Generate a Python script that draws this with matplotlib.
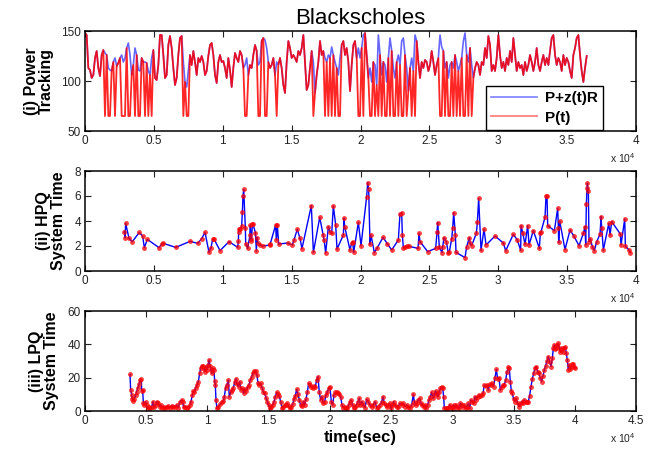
import matplotlib
matplotlib.use("Agg")
import matplotlib.pyplot as plt
import numpy as np

plt.rcParams['font.family'] = ['Liberation Sans', 'DejaVu Sans']
plt.rcParams['mathtext.default'] = 'regular'

# ---- (i) power tracking: one sample every 121 s, 0 .. ~36400 s
sample_step = 121
power = [
    148, 146, 113, 111, 103, 106, 123, 130, 113, 105,
    126, 131, 128, 126, 113, 111, 110, 119, 123, 115,
    118, 123, 126, 119, 123, 133, 138, 126, 106, 116,
    133, 126, 111, 110, 123, 119, 119, 118, 110, 106,
    123, 131, 103, 101, 116, 146, 146, 126, 103, 106,
    136, 145, 133, 113, 96, 103, 126, 143, 145, 119,
    99, 94, 110, 126, 116, 130, 119, 106, 123, 119,
    125, 119, 106, 110, 125, 136, 138, 126, 106, 98,
    119, 126, 119, 120, 113, 103, 123, 111, 94, 113,
    128, 123, 119, 130, 126, 113, 116, 123, 106, 116,
    113, 126, 136, 130, 116, 119, 140, 143, 141, 133,
    119, 113, 116, 123, 106, 119, 116, 123, 113, 96,
    88, 119, 140, 133, 123, 126, 123, 119, 130, 126,
    133, 146, 119, 91, 96, 113, 130, 119, 88, 106,
    119, 140, 126, 130, 123, 119, 126, 123, 134, 126,
    119, 113, 106, 123, 136, 140, 126, 133, 119, 90,
    116, 136, 140, 123, 133,
    123, 133, 146, 148, 126, 103, 113, 99, 119, 116,
    96, 146, 126, 106, 119, 116, 99, 123, 143, 130,
    113, 103, 119, 126, 116, 140, 143, 126, 113, 90,
    113, 123, 110, 146, 140, 119, 103, 119, 113, 121,
    119, 110, 116, 130, 119, 106, 116, 123, 146, 134,
    130, 113, 119, 103, 116, 119, 113, 126, 119, 110,
    116, 123, 140, 148, 126, 119, 133, 116, 103, 113,
    119, 116, 106, 119, 116, 133, 123, 145, 136, 110,
    116, 110, 123, 146, 126, 113, 119, 110, 123, 116,
    130, 119, 143, 126, 110, 119, 113, 116, 106, 119,
    110, 116, 126, 119, 110, 119, 133, 116, 110, 119,
    126, 116, 123, 116, 130, 143, 146, 126, 116, 123,
    119, 110, 126, 116, 123, 119, 110, 103, 126, 133,
    143, 146, 126, 110, 99, 113, 125,
]
# samples where P(t) falls to its floor
dip_level = 65
dip_index = [
    12, 14, 15, 18, 22, 23, 24, 26, 27, 30, 32, 33, 36, 38, 40,
    59, 61, 62, 96, 97, 104, 105, 108, 109, 115, 137,
    144, 146, 148, 150, 152, 153, 164,
    165, 167, 171, 172, 174, 176, 178, 180, 181, 183, 185, 186,
    188, 190, 191, 193, 196, 198, 213, 214, 216, 218, 219, 221,
    223, 225, 227, 228, 230, 232,
]

# ---- (ii) HPQ system time
hpq_t = [
    2856, 2904, 2952, 3194, 3436, 3945, 4187, 4308, 4525, 5372,
    5566, 5687, 6582, 7623, 8180, 8470, 8712, 9002, 9148, 9269,
    9365, 9801, 10454, 11084, 11132, 11156, 11180, 11277, 11374, 11422,
    11471, 11519, 11640, 11665, 11810, 11980, 12005, 12030, 12080, 12150,
    12200, 12370, 12440, 12490, 12540, 12710, 12950, 13400, 13450, 13840,
    13890, 13960, 14060, 14720, 15050, 15170, 15410, 15610, 15750, 16430,
    16580, 17040, 17290, 17360, 17472, 17666, 17787, 17908, 18029, 18198,
    18295, 18755, 18803, 18852, 19239, 19360, 19433, 19505, 19844,
    20037, 20448, 20521, 20593, 20690, 20763, 21005, 21222, 21634, 21948,
    22263, 22747, 22868, 22989, 23037, 23110, 23231, 23400, 23545, 24175,
    24248, 24320, 24877, 25458, 25554, 25603, 25724, 25917, 25966, 26062,
    26232, 26377, 26450, 26619, 26692, 26764, 26885, 26934, 27587, 27708,
    27901, 27950, 28071, 28410, 28483, 28579, 28749, 28966, 29112, 29765,
    30370, 30540, 31096, 31386, 31628, 31653, 31774, 31943, 32137, 32234,
    32548, 32984, 33056, 33105, 33395, 33468, 33540, 33589, 34073, 34315,
    34364, 34388, 34460, 34847, 35210, 35500, 35863, 36178, 36299, 36347,
    36396, 36444, 36468, 36541, 36589, 36686, 36831, 36976, 37146, 37388,
    37461, 37510, 37630, 38025, 38114, 38235, 38864, 38913, 39180, 39228,
    39494, 39590,
]
hpq_v = [
    3.15, 2.67, 3.81, 2.61, 2.35, 3.09, 2.77, 1.87, 2.53, 1.87,
    2.16, 2.21, 1.89, 2.37, 2.21, 2.59, 3.09, 1.49, 1.87, 2.56,
    2.56, 1.63, 2.35, 1.89, 2.40, 3.15, 3.36, 3.36, 3.60, 4.69,
    6.00, 6.53, 3.47, 2.20, 1.81, 2.88, 3.68, 2.56, 2.40, 3.73,
    3.73, 3.07, 1.60, 2.67, 2.27, 2.08, 2.00, 2.08, 2.19, 3.68,
    2.48, 3.68, 2.16, 2.24, 2.08, 2.48, 3.33, 2.61, 1.79, 5.23,
    1.49, 4.29, 2.88, 2.48, 1.44, 3.55, 3.15, 3.01, 5.20, 3.68,
    1.76, 2.88, 4.21, 3.55, 1.68, 2.27, 2.35, 1.49, 3.89,
    2.03, 5.95, 7.07, 6.56, 2.13, 2.88, 1.47, 1.87, 2.69, 2.19,
    1.68, 2.48, 4.59, 4.67, 2.88, 1.87, 1.92, 1.97, 1.97, 1.81,
    3.01, 2.35, 1.55, 1.81, 3.09, 3.87, 1.89, 1.47, 1.95, 2.67,
    2.35, 1.41, 1.55, 2.56, 3.41, 4.67, 2.88, 1.49, 1.07, 1.95,
    2.67, 2.21, 2.03, 3.01, 3.89, 5.81, 1.65, 3.36, 2.08, 2.80,
    2.24, 1.63, 2.93, 2.48, 1.65, 3.63, 3.07, 2.13, 3.63, 2.08,
    3.23, 1.81, 3.07, 3.15, 4.29, 6.00, 6.00, 3.63, 3.23, 5.01,
    3.41, 2.29, 4.00, 1.71, 3.28, 2.77, 2.03, 3.01, 3.55, 2.08,
    5.36, 6.61, 7.01, 6.40, 2.35, 2.56, 1.95, 1.63, 2.35, 2.93,
    4.35, 3.47, 1.68, 3.81, 2.88, 3.95, 2.96, 2.08, 4.16, 2.00,
    1.68, 1.47,
]

# ---- (iii) LPQ system time
lpq_t = [
    3675, 3729, 3811, 3865, 3947, 4029, 4137, 4219, 4301, 4410,
    4519, 4600, 4627, 4709, 4764, 4845, 4954, 5036, 5117, 5226,
    5335, 5444, 5553, 5635, 5771, 5880, 5988, 6097, 6206, 6315,
    6424, 6533, 6669, 6805, 6941, 7077, 7213, 7349, 7486, 7622,
    7758, 7894, 7976, 8057, 8166, 8302, 8438, 8574, 8656, 8765,
    8847, 8928, 9037, 9146, 9255, 9364, 9446, 9527, 9636, 9718,
    9799, 9881, 9963, 10044, 10126, 10208, 10290, 10371, 10453, 10534,
    10589, 10643, 10698, 10779, 10888, 11024, 11160, 11297, 11378, 11487,
    11596, 11705, 11786, 11895, 11977, 12113, 12249, 12331, 12440, 12549,
    12630, 12739, 12848, 12957, 13066, 13174, 13283, 13392, 13501, 13610,
    13719, 13828, 13937, 14046, 14127, 14236, 14345, 14454, 14563, 14671,
    14780, 14889, 14998, 15107, 15216, 15325, 15434, 15543, 15652, 15760,
    15869, 15978, 16087, 16196, 16305, 16414, 16522, 16631, 16740, 16849,
    16958, 17067, 17176, 17285, 17393, 17502, 17611, 17720, 17829, 17938,
    18047, 18156, 18264, 18373, 18482, 18591, 18700, 18809, 18918, 19027,
    19136, 19245, 19353, 19462, 19571, 19680, 19789, 19898, 20007, 20116,
    20225, 20334, 20443, 20552, 20661, 20770, 20878, 20987, 21096, 21205,
    21314, 21423, 21532, 21640, 21749, 21858, 21967, 22076, 22185, 22294,
    22403, 22459, 22595, 22731, 22868, 23004, 23140, 23276, 23412, 23548,
    23684, 23820, 23957, 24093, 24229, 24337, 24446, 24555, 24664, 24773,
    24882, 24991, 25100, 25209, 25317, 25454, 25590, 25726, 25862, 25998,
    26134, 26270, 26406, 26543, 26679, 26815, 26896, 27005, 27114, 27223,
    27332, 27441, 27549, 27658, 27767, 27876, 27985, 28094, 28203, 28312,
    28420, 28529, 28638, 28720, 28801, 28910, 29019, 29128, 29210, 29291,
    29345, 29454, 29563, 29672, 29781, 29890, 29999, 30108, 30216, 30325,
    30434, 30543, 30652, 30762, 30870, 30979, 31088, 31197, 31306, 31415,
    31524, 31633, 31742, 31851, 31959, 32068, 32177, 32286, 32395, 32504,
    32613, 32722, 32830, 32939, 33048, 33157, 33266, 33374, 33483, 33592,
    33701, 33810, 33919, 34028, 34137, 34246, 34355, 34464, 34573, 34654,
    34736, 34817, 34899, 35008, 35117, 35225, 35334, 35443, 35552, 35661,
    35770, 35879, 35988, 36096, 36205, 36314, 36423, 36532, 36641, 36750,
    36859, 36968, 37076, 37185, 37294, 37403, 37512, 37621, 37730, 37839,
    37947, 38056, 38165, 38247, 38329, 38410, 38492, 38574, 38655, 38737,
    38819, 38900, 38982, 39064, 39145, 39227, 39308, 39390, 39472, 39553,
    39635, 39717, 39798, 39880, 39962, 40044,
]
lpq_v = [
    22.0, 12.6, 9.6, 7.0, 6.0, 7.2, 9.6, 11.6, 13.6, 16.0,
    18.6, 19.0, 12.0, 12.4, 5.0, 3.6, 5.6, 3.6, 1.6, 2.6,
    2.0, 2.4, 5.6, 2.6, 3.6, 5.6, 4.6, 2.6, 3.6, 2.0,
    2.6, 1.6, 2.4, 2.8, 2.0, 3.2, 2.2, 2.4, 3.6, 2.0,
    5.6, 6.6, 5.2, 2.2, 2.6, 2.0, 2.6, 3.6, 5.6, 9.6,
    12.0, 11.2, 14.0, 15.6, 17.6, 22.6, 25.6, 27.2, 27.0, 25.2,
    23.6, 26.6, 24.6, 27.6, 30.6, 27.2, 24.6, 22.6, 25.6, 24.6,
    18.0, 15.6, 6.6, 1.6, 2.6, 4.0, 5.6, 6.0, 8.6, 14.0,
    15.6, 18.6, 8.6, 11.2, 12.6, 14.0, 17.6, 19.2, 16.0, 14.6,
    17.6, 12.6, 13.6, 10.6, 13.2, 12.0, 14.6, 15.6, 18.6, 20.6,
    22.6, 24.0, 24.2, 21.6, 16.6, 15.6, 16.6, 14.0, 11.6, 10.6,
    8.0, 5.6, 3.6, 1.6, 2.6, 3.6, 5.6, 8.6, 11.2, 10.0,
    9.0, 5.6, 2.0, 2.6, 3.6, 3.6, 4.6, 3.2, 1.6, 2.6,
    4.2, 7.0, 9.2, 13.0, 10.0, 6.6, 3.6, 3.0, 5.6, 3.6,
    7.2, 11.2, 16.6, 15.6, 14.6, 13.6, 15.0, 14.6, 18.6, 20.6,
    11.2, 6.6, 8.6, 4.6, 5.6, 9.6, 11.2, 13.6, 14.6, 5.6,
    3.6, 9.6, 11.2, 11.2, 10.6, 10.0, 8.6, 3.6, 2.0, 2.6,
    1.6, 2.0, 3.6, 5.6, 6.6, 3.6, 1.6, 2.6, 3.6, 5.6,
    7.6, 3.6, 5.6, 3.6, 2.0, 7.0, 5.6, 3.6, 2.6, 3.6,
    5.6, 2.0, 2.6, 3.6, 5.6, 8.6, 4.6, 3.6, 2.6, 3.6,
    4.6, 1.6, 3.6, 5.6, 3.6, 2.2, 2.6, 4.6, 3.6, 4.6,
    2.6, 3.6, 2.6, 2.0, 3.6, 10.0, 5.6, 3.6, 4.6, 6.6,
    7.6, 4.6, 3.6, 2.6, 3.6, 1.6, 3.6, 6.6, 8.6, 11.2,
    7.6, 9.6, 12.0, 10.0, 8.6, 11.2, 13.6, 14.6, 14.0, 8.6,
    1.6, 2.0, 1.6, 2.0, 3.6, 2.6, 2.0, 3.6, 1.6, 3.6,
    2.6, 1.6, 4.6, 3.6, 2.6, 3.6, 1.6, 2.6, 4.6, 1.6,
    6.6, 5.6, 4.6, 8.6, 6.6, 8.6, 9.6, 9.2, 9.6, 10.6,
    15.6, 15.2, 15.6, 12.6, 16.0, 15.6, 16.6, 14.6, 20.0, 25.0,
    19.2, 20.0, 12.6, 14.6, 15.6, 15.6, 18.6, 23.6, 26.2, 25.6,
    17.6, 12.0, 10.6, 7.0, 5.6, 7.6, 4.6, 2.6, 4.0, 5.6,
    4.6, 6.6, 5.2, 5.6, 5.6, 9.2, 14.6, 19.2, 22.6, 25.6,
    26.6, 23.6, 22.6, 19.6, 17.6, 21.2, 24.6, 27.2, 30.0, 32.6,
    29.6, 26.6, 31.6, 37.6, 39.6, 37.2, 37.6, 39.6, 40.6, 37.6,
    35.6, 36.6, 37.6, 35.6, 37.6, 38.6, 34.6, 30.6, 24.6, 27.6,
    25.2, 26.6, 28.0, 28.0, 26.6, 26.0,
]

power = np.array(power, dtype=float)
power_t = np.arange(len(power)) * sample_step
p_of_t = power.copy()
p_of_t[dip_index] = dip_level


def style_axes(ax, xmax, ylim, yticks):
    ax.set_xlim(0, xmax)
    ax.set_ylim(*ylim)
    ax.set_yticks(yticks)
    xt = np.arange(0, xmax + 1, 5000)
    ax.set_xticks(xt)
    ax.set_xticklabels(['%g' % (v / 1e4) for v in xt])
    ax.tick_params(direction='in', top=True, right=True, length=4,
                   width=0.8, labelsize=8.5, pad=3, colors='#222222')
    for s in ax.spines.values():
        s.set_linewidth(1.1)
    ax.text(1.0, -0.27, 'x 10$^{4}$', transform=ax.transAxes,
            ha='right', va='center', fontsize=7.5, color='#222222')


def side_label(ax, text, right_px):
    # right edge of the rotated two-line label, in pixels from the figure's left
    ax.set_ylabel(text, fontsize=11.5, fontweight='bold', linespacing=1.0)
    ax.yaxis.set_label_coords((right_px - 85) / 551, 0.5)


fig = plt.figure(figsize=(6.56, 4.49), dpi=100)
left, width = 85 / 656, 551 / 656
ax1 = fig.add_axes([left, 318 / 449, width, 100 / 449])
ax2 = fig.add_axes([left, 178 / 449, width, 100 / 449])
ax3 = fig.add_axes([left, 38 / 449, width, 100 / 449])

ax1.plot(power_t, power, color='blue', lw=1.2, alpha=0.6, label='P+z(t)R')
ax1.plot(power_t, p_of_t, color='red', lw=1.3, alpha=0.85, label='P(t)')
style_axes(ax1, 40000, (50, 150), [50, 100, 150])
side_label(ax1, '(i) Power\nTracking', 54)
ax1.set_title('Blackscholes', fontsize=16, pad=5)
leg = ax1.legend(loc='lower right', bbox_to_anchor=((603 - 85) / 551, 0.01),
                 borderaxespad=0, fancybox=False, edgecolor='black',
                 framealpha=1, handlelength=3.0, borderpad=0.35,
                 labelspacing=0.35, handletextpad=0.5,
                 prop={'weight': 'bold', 'size': 11})
leg.get_frame().set_linewidth(1.0)
for h in leg.get_lines():
    h.set_alpha(0.5)

ax2.plot(hpq_t, hpq_v, color='blue', lw=1.0)
ax2.plot(hpq_t, hpq_v, 'o', color='red', ms=3.5, alpha=0.75, mew=0)
style_axes(ax2, 40000, (0, 8), [0, 2, 4, 6, 8])
side_label(ax2, '(ii) HPQ\nSystem Time', 66)

ax3.plot(lpq_t, lpq_v, color='blue', lw=1.0)
ax3.plot(lpq_t, lpq_v, 'o', color='red', ms=3.5, alpha=0.75, mew=0)
style_axes(ax3, 45000, (0, 60), [0, 20, 40, 60])
side_label(ax3, '(iii) LPQ\nSystem Time', 59)
ax3.set_xlabel('time(sec)', fontsize=12, fontweight='bold', labelpad=2)

fig.savefig('out.png', dpi=100)
